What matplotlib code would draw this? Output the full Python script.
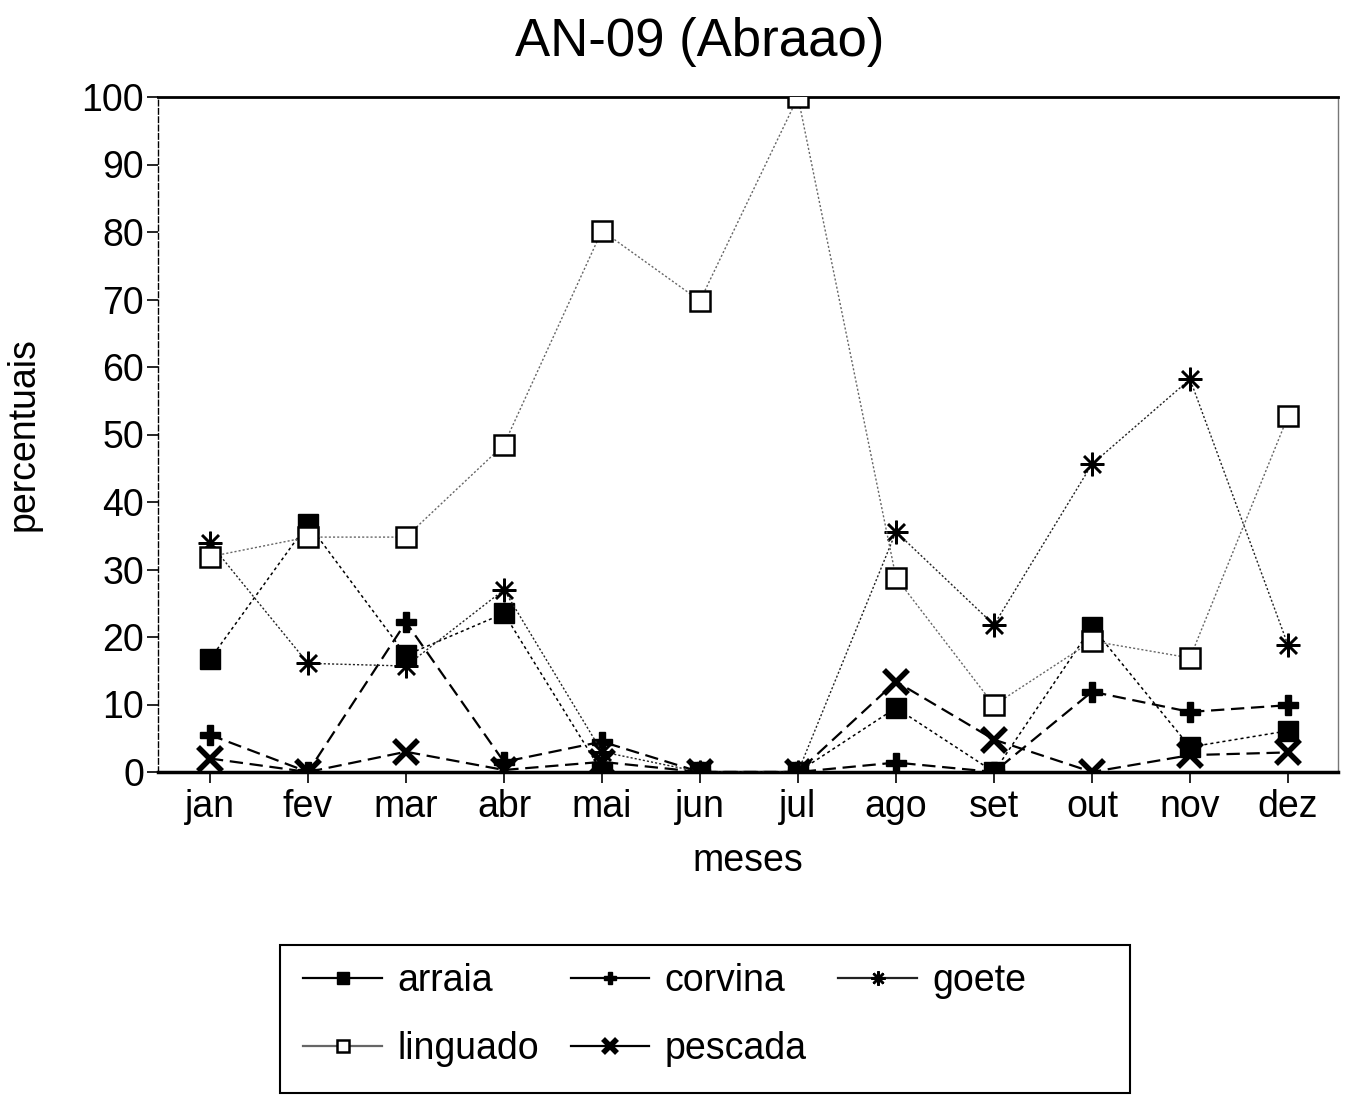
import matplotlib.pyplot as plt
from matplotlib.patches import Rectangle

# monthly percentages
meses = ["jan", "fev", "mar", "abr", "mai", "jun", "jul", "ago", "set", "out", "nov", "dez"]
arraia = [16.7, 36.8, 17.3, 23.5, 0, 0, 0, 9.5, 0, 21.5, 3.7, 6.1]
corvina = [5.5, 0, 22.2, 1.5, 4.5, 0, 0, 1.4, 0, 11.9, 8.9, 9.9]
goete = [33.9, 16.1, 15.7, 27.0, 3.0, 0, 0, 35.6, 21.8, 45.6, 58.2, 18.8]
linguado = [31.9, 34.8, 34.8, 48.5, 80.2, 69.8, 100, 28.8, 9.9, 19.4, 16.9, 52.7]
pescada = [2.0, 0, 3.0, 0.3, 1.5, 0, 0, 13.4, 4.8, 0, 2.5, 2.9]

plt.rcParams['font.family'] = ['Liberation Sans', 'DejaVu Sans']

W, H = 1347, 1096
fig = plt.figure(figsize=(W / 100, H / 100), dpi=100)
ax = fig.add_axes([158 / W, 1 - 772 / H, (1338 - 158) / W, (772 - 97) / H])

x = list(range(len(meses)))
h_arraia, = ax.plot(x, arraia, color='black', lw=1.1, ls=(0, (2, 2)),
                    marker='s', ms=15, mfc='black', mec='black', label='arraia', zorder=3)
h_corvina, = ax.plot(x, corvina, color='black', lw=1.6, ls=(0, (6, 3)),
                     marker='P', ms=15, mfc='black', mec='black', label='corvina', zorder=3)
h_goete, = ax.plot(x, goete, color='#222222', lw=1.0, ls=(0, (1.5, 1.5)),
                   marker=(8, 2, 0), ms=17, mew=1.8, mec='black', label='goete', zorder=3)
h_linguado, = ax.plot(x, linguado, color='#666666', lw=1.0, ls=(0, (1.5, 1.5)),
                      marker='s', ms=14, mfc='white', mec='black', mew=1.8, label='linguado', zorder=3)
h_pescada, = ax.plot(x, pescada, color='black', lw=1.6, ls=(0, (6, 3)),
                     marker='x', ms=17, mew=4, mec='black', label='pescada', zorder=3)

ax.set_xlim(-0.53, 11.51)
ax.set_ylim(0, 100)
ax.set_yticks(range(0, 101, 10))
ax.set_xticks(x)
ax.set_xticklabels(meses)
ax.tick_params(axis='both', labelsize=27, direction='out', length=8, width=1.2)
ax.tick_params(axis='x', pad=4)
ax.tick_params(axis='y', pad=2)

ax.spines['top'].set_linewidth(2)
ax.spines['bottom'].set_linewidth(2.5)
ax.spines['left'].set_linestyle((0, (4, 2)))
ax.spines['left'].set_linewidth(1)
ax.spines['right'].set_linewidth(1)
ax.spines['right'].set_color('#777777')

fig.text(700 / W, 1 - 42 / H, 'AN-09 (Abraao)', fontsize=38, ha='center', va='center')
ax.set_xlabel('meses', fontsize=27)
ax.set_ylabel('percentuais', fontsize=27)
ax.xaxis.set_label_coords(0.5, (772 - 843) / 675)
ax.yaxis.set_label_coords((42 - 158) / 1180, 0.5)

# row-major ordering for a 3 column legend
handles = [h_arraia, h_linguado, h_corvina, h_pescada, h_goete]
leg = fig.legend(handles=handles, labels=[h.get_label() for h in handles],
                 ncol=3, loc='upper left', bbox_to_anchor=(292 / W, 1 - 952 / H),
                 borderaxespad=0, fontsize=27, frameon=False,
                 handlelength=2.1, handletextpad=0.4, columnspacing=0.85,
                 borderpad=0.3, labelspacing=0.85, markerscale=0.6)
for line in leg.get_lines():
    line.set_linestyle('-')
    line.set_linewidth(1.6)

# legend frame, bottom edge sits at the image edge as in the scan
fig.patches.append(Rectangle((280 / W, 1 - 1093 / H), 850 / W, (1093 - 945) / H,
                             transform=fig.transFigure, fill=False,
                             edgecolor='black', linewidth=1.5))

fig.savefig('out.png', dpi=100)
